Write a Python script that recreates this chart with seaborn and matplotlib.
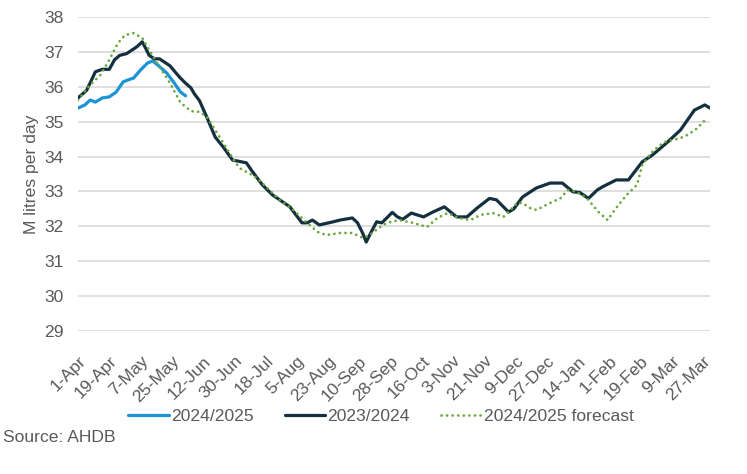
import matplotlib
matplotlib.use("Agg")
import matplotlib.pyplot as plt
import seaborn as sns
import pandas as pd

# ---- data (day index from 1-Apr, value in M litres/day) ----
days_2324 = [0, 5, 10, 14, 18, 21, 24, 28, 31, 34, 37, 39, 41, 44, 47, 50, 53, 56, 59, 62,
             65, 67, 70, 74, 79, 84, 89, 97, 100, 106, 112, 122, 129, 132, 135, 139, 147, 151,
             158, 161, 164, 166, 169, 172, 175, 181, 184, 187, 192, 199, 204, 211, 218, 224,
             230, 237, 241, 248, 251, 256, 264, 272, 279, 285, 289, 294, 299, 302, 310, 317,
             325, 331, 339, 347, 355, 361, 364]
vals_2324 = [35.68, 35.9, 36.43, 36.5, 36.5, 36.77, 36.9, 36.95, 37.05, 37.15, 37.29, 37.1,
             36.9, 36.8, 36.8, 36.7, 36.6, 36.42, 36.25, 36.1, 35.97, 35.8, 35.6, 35.15, 34.56,
             34.25, 33.9, 33.82, 33.6, 33.2, 32.9, 32.56, 32.1, 32.1, 32.18, 32.04, 32.13, 32.18,
             32.24, 32.1, 31.8, 31.55, 31.85, 32.13, 32.1, 32.4, 32.27, 32.2, 32.38, 32.27, 32.4,
             32.56, 32.27, 32.27, 32.53, 32.8, 32.76, 32.41, 32.5, 32.84, 33.1, 33.24, 33.24,
             32.99, 32.97, 32.8, 33.04, 33.13, 33.33, 33.33, 33.85, 34.05, 34.39, 34.76, 35.33,
             35.48, 35.39]

days_2425 = [0, 4, 7, 10, 14, 18, 22, 26, 29, 32, 36, 40, 43, 46, 51, 55, 59, 62]
vals_2425 = [35.39, 35.48, 35.62, 35.56, 35.68, 35.71, 35.85, 36.14, 36.2, 36.25, 36.48,
             36.68, 36.74, 36.62, 36.4, 36.14, 35.85, 35.74]

days_fc = [0, 7, 13, 18, 23, 27, 32, 37, 41, 47, 53, 59, 65, 70, 74, 76, 82, 89, 93, 97,
           103, 109, 116, 124, 132, 138, 143, 151, 158, 164, 168, 173, 178, 185, 193, 201,
           207, 213, 219, 226, 232, 239, 245, 253, 256, 260, 264, 272, 278, 282, 287, 293,
           300, 305, 310, 316, 322, 325, 330, 334, 338, 343, 347, 351, 357, 360, 362]
vals_fc = [35.62, 36.05, 36.34, 36.77, 37.25, 37.48, 37.54, 37.4, 37.05, 36.57, 36.1, 35.55,
           35.3, 35.28, 35.15, 35.0, 34.53, 33.96, 33.67, 33.56, 33.39, 33.1, 32.76, 32.47,
           32.1, 31.84, 31.75, 31.81, 31.81, 31.67, 31.75, 31.95, 32.1, 32.18, 32.1, 31.98,
           32.24, 32.38, 32.24, 32.18, 32.33, 32.38, 32.27, 32.67, 32.67, 32.53, 32.47, 32.67,
           32.81, 33.04, 32.99, 32.81, 32.4, 32.18, 32.53, 32.9, 33.19, 33.76, 34.1, 34.28,
           34.42, 34.48, 34.53, 34.62, 34.82, 35.0, 35.05]

tick_days = [0, 18, 36, 54, 72, 90, 108, 126, 144, 162, 180, 198, 216, 234, 252, 270, 288,
             306, 324, 342, 360]
tick_labels = ["1-Apr", "19-Apr", "7-May", "25-May", "12-Jun", "30-Jun", "18-Jul", "5-Aug",
               "23-Aug", "10-Sep", "28-Sep", "16-Oct", "3-Nov", "21-Nov", "9-Dec", "27-Dec",
               "14-Jan", "1-Feb", "19-Feb", "9-Mar", "27-Mar"]
y_ticks = [29, 30, 31, 32, 33, 34, 35, 36, 37, 38]

# ---- style ----
sns.set_theme(style="white")
plt.rcParams["font.family"] = ["Liberation Sans", "DejaVu Sans"]
TXT = "#595959"
FS = 12.6

fig = plt.figure(figsize=(7.47, 4.74), dpi=100)
ax = fig.add_axes([78 / 747, 1 - 331 / 474, (710 - 78) / 747, (331 - 17) / 474])

sns.lineplot(x=days_2425, y=vals_2425, ax=ax, color="#1a94d6", linewidth=2.3,
             label="2024/2025", solid_capstyle="round")
sns.lineplot(x=days_2324, y=vals_2324, ax=ax, color="#14303f", linewidth=2.3,
             label="2023/2024", solid_capstyle="round")
sns.lineplot(x=days_fc, y=vals_fc, ax=ax, color="#6aa83c", linewidth=2.0,
             label="2024/2025 forecast", dash_capstyle="round")
ax.lines[-1].set_dashes((0.01, 2.0))

ax.set_xlim(0, 364)
ax.set_ylim(29, 38)
ax.set_yticks(y_ticks)
ax.set_xticks(tick_days)
ax.set_xticklabels(tick_labels, rotation=45, ha="right", rotation_mode="anchor",
                   fontsize=FS, color=TXT)
ax.tick_params(axis="x", pad=16, length=0)
ax.tick_params(axis="y", labelsize=FS, labelcolor=TXT, pad=10, length=0)
ax.grid(axis="y", color="#d9d9d9", linewidth=1.2)
ax.set_axisbelow(True)
for s in ax.spines.values():
    s.set_visible(False)
ax.set_ylabel("M litres per day", fontsize=FS, color=TXT, labelpad=4)
ax.set_xlabel("")

leg = ax.legend(loc="center", bbox_to_anchor=(381 / 747, 1 - 416 / 474),
                bbox_transform=fig.transFigure, ncol=3, frameon=False, fontsize=FS,
                handlelength=2.3, handletextpad=0.12, columnspacing=1.8)
for t in leg.get_texts():
    t.set_color(TXT)
leg.get_lines()[2].set_dashes((0.01, 2.0))
leg.get_lines()[2].set_dash_capstyle("round")

fig.text(3 / 747, 1 - 437 / 474, "Source: AHDB", fontsize=FS, color=TXT,
         ha="left", va="center")

fig.savefig("out.png", dpi=100)
